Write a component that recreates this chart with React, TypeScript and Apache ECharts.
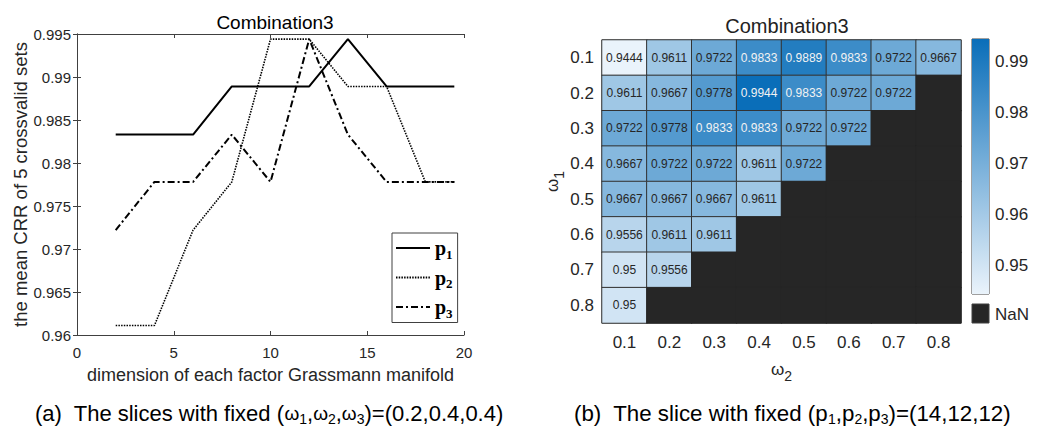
import React, { useEffect, useRef } from "react";
import * as echarts from "echarts";

// ---------- Data ----------
const dims = [2, 4, 6, 8, 10, 12, 14, 16, 18, 19.5];
const p1 = [0.9833, 0.9833, 0.9833, 0.9889, 0.9889, 0.9889, 0.9944, 0.9889, 0.9889, 0.9889];
const p2 = [0.9611, 0.9611, 0.9722, 0.9778, 0.9944, 0.9944, 0.9889, 0.9889, 0.9778, 0.9778];
const p3 = [0.9722, 0.9778, 0.9778, 0.9833, 0.9778, 0.9944, 0.9833, 0.9778, 0.9778, 0.9778];

const omegaLabels = ["0.1", "0.2", "0.3", "0.4", "0.5", "0.6", "0.7", "0.8"];
// rows: omega1 = 0.1 .. 0.8 ; columns: omega2 = 0.1 .. 0.8 ; null = NaN
const crr: (number | null)[][] = [
  [0.9444, 0.9611, 0.9722, 0.9833, 0.9889, 0.9833, 0.9722, 0.9667],
  [0.9611, 0.9667, 0.9778, 0.9944, 0.9833, 0.9722, 0.9722, null],
  [0.9722, 0.9778, 0.9833, 0.9833, 0.9722, 0.9722, null, null],
  [0.9667, 0.9722, 0.9722, 0.9611, 0.9722, null, null, null],
  [0.9667, 0.9667, 0.9667, 0.9611, null, null, null, null],
  [0.9556, 0.9611, 0.9611, null, null, null, null, null],
  [0.95, 0.9556, null, null, null, null, null, null],
  [0.95, null, null, null, null, null, null, null],
];
const colorbarTicks = [0.95, 0.96, 0.97, 0.98, 0.99];
const cMin = 0.9444;
const cMax = 0.9944;

const FONT = "Liberation Sans, Arial, sans-serif";
const TXT = "#262626";
const LOW = "#eaf3fb";
const HIGH = "#0a6eb9";
const NAN = "#262626";

export default function App() {
  const ref = useRef<HTMLDivElement>(null);
  useEffect(() => {
    if (!ref.current) return;
    const chart = echarts.init(ref.current, null, { renderer: "svg" });

    const heatData: any[] = [];
    const nanData: any[] = [];
    crr.forEach((row, r) =>
      row.forEach((v, c) => {
        if (v === null) nanData.push([c, r, 0]);
        else
          heatData.push({
            value: [c, r, v],
            label: { color: v >= 0.983 ? "#f2f2f2" : TXT },
          });
      })
    );

    const mkLine = (name: string, data: number[], lineStyle: any) => ({
      name,
      type: "line",
      xAxisIndex: 0,
      yAxisIndex: 0,
      data: dims.map((d, i) => [d, data[i]]),
      symbol: "none",
      lineStyle: { color: "#000", ...lineStyle },
      itemStyle: { color: "#000" },
    });

    const boxAxis = (extra: any) => ({
      axisLine: { show: true, lineStyle: { color: "#404040", width: 1 } },
      axisTick: { show: true, inside: true, length: 4, lineStyle: { color: "#404040" } },
      splitLine: { show: false },
      ...extra,
    });

    const option: any = {
      animation: false,
      backgroundColor: "#fff",
      textStyle: { fontFamily: FONT },
      title: [
        {
          text: "Combination3",
          left: 270,
          top: 8,
          textAlign: "center",
          textStyle: { fontSize: 19, fontWeight: "normal", color: "#000", fontFamily: FONT },
        },
        {
          text: "Combination3",
          left: 782,
          top: 11,
          textAlign: "center",
          textStyle: { fontSize: 20, fontWeight: "normal", color: "#222", fontFamily: FONT },
        },
      ],
      legend: {
        data: ["p1", "p2", "p3"],
        orient: "vertical",
        left: 392,
        top: 233,
        itemWidth: 34,
        itemHeight: 14,
        itemGap: 7,
        padding: [5, 5, 3, 3],
        borderColor: "#404040",
        borderWidth: 1,
        backgroundColor: "#fff",
        itemStyle: { opacity: 0 },
        formatter: (name: string) => `{p|p}{s|${name.slice(1)}}`,
        textStyle: {
          rich: {
            p: { fontFamily: "Liberation Serif, serif", fontWeight: "bold", fontSize: 20, color: "#000" },
            s: {
              fontFamily: "Liberation Serif, serif",
              fontWeight: "bold",
              fontSize: 13,
              color: "#000",
              padding: [12, 0, 0, 0],
            },
          },
        },
      },
      grid: [
        { left: 77, top: 34, width: 387, height: 301 },
        { left: 602, top: 40, width: 359, height: 283, show: true, borderColor: "#999", borderWidth: 1 },
        { left: 972, top: 39, width: 17, height: 255, show: true, borderColor: "#404040", borderWidth: 1 },
      ],
      xAxis: [
        boxAxis({
          type: "value",
          gridIndex: 0,
          min: 0,
          max: 20,
          interval: 5,
          name: "dimension of each factor Grassmann manifold",
          nameLocation: "middle",
          nameGap: 31,
          nameTextStyle: { fontSize: 18, color: TXT, fontFamily: FONT },
          axisLabel: { fontSize: 15, color: TXT, margin: 10, fontFamily: FONT },
        }),
        boxAxis({
          type: "value",
          gridIndex: 0,
          position: "top",
          min: 0,
          max: 20,
          interval: 5,
          axisLabel: { show: false },
        }),
        {
          type: "category",
          gridIndex: 1,
          data: omegaLabels,
          axisLine: { show: false },
          axisTick: { show: false },
          axisLabel: { fontSize: 17, color: TXT, margin: 11, fontFamily: FONT },
          name: "{w|ω}{s|2}",
          nameLocation: "middle",
          nameGap: 32,
          nameTextStyle: {
            rich: {
              w: { fontSize: 17, color: TXT, fontFamily: FONT },
              s: { fontSize: 14, color: TXT, fontFamily: FONT, padding: [14, 0, 0, 0] },
            },
          },
        },
        {
          type: "category",
          gridIndex: 2,
          data: [""],
          show: false,
        },
      ],
      yAxis: [
        boxAxis({
          type: "value",
          gridIndex: 0,
          min: 0.96,
          max: 0.995,
          interval: 0.005,
          name: "the mean CRR of 5 crossvalid sets",
          nameLocation: "middle",
          nameGap: 42,
          nameTextStyle: { fontSize: 18.5, color: TXT, fontFamily: FONT },
          axisLabel: { fontSize: 15, color: TXT, margin: 6, fontFamily: FONT },
        }),
        boxAxis({
          type: "value",
          gridIndex: 0,
          position: "right",
          min: 0.96,
          max: 0.995,
          interval: 0.005,
          axisLabel: { show: false },
        }),
        {
          type: "category",
          gridIndex: 1,
          data: omegaLabels,
          inverse: true,
          axisLine: { show: false },
          axisTick: { show: false },
          axisLabel: { fontSize: 17, color: TXT, margin: 8, fontFamily: FONT },
          name: "{w|ω}{s|1}",
          nameLocation: "middle",
          nameGap: 36,
          nameTextStyle: {
            rich: {
              w: { fontSize: 17, color: TXT, fontFamily: FONT },
              s: { fontSize: 14, color: TXT, fontFamily: FONT, padding: [14, 0, 0, 0] },
            },
          },
        },
        {
          type: "value",
          gridIndex: 2,
          position: "right",
          min: cMin,
          max: cMax,
          axisLine: { show: false },
          splitLine: { show: false },
          axisTick: {
            show: true,
            inside: true,
            length: 2,
            customValues: colorbarTicks,
            lineStyle: { color: "#404040" },
          },
          axisLabel: {
            fontSize: 17,
            color: TXT,
            margin: 6,
            fontFamily: FONT,
            customValues: colorbarTicks,
            formatter: (v: number) => String(v),
          },
        },
      ],
      visualMap: [
        {
          type: "continuous",
          show: false,
          min: cMin,
          max: cMax,
          dimension: 2,
          seriesIndex: 3,
          inRange: { color: [LOW, HIGH] },
        },
        {
          type: "piecewise",
          show: false,
          dimension: 2,
          seriesIndex: 4,
          pieces: [{ min: -1, max: 1, color: NAN }],
        },
      ],
      series: [
        mkLine("p1", p1, { width: 2, type: "solid" }),
        mkLine("p2", p2, { width: 1.6, type: [1.5, 1.2] }),
        mkLine("p3", p3, { width: 2, type: [7, 3, 2, 3] }),
        {
          type: "heatmap",
          xAxisIndex: 2,
          yAxisIndex: 2,
          data: heatData,
          itemStyle: { borderColor: "#333", borderWidth: 1 },
          label: {
            show: true,
            fontSize: 12,
            fontFamily: FONT,
            formatter: (p: any) => String(p.value[2]),
          },
          emphasis: { disabled: true },
        },
        {
          type: "heatmap",
          xAxisIndex: 2,
          yAxisIndex: 2,
          data: nanData,
          itemStyle: { borderColor: NAN, borderWidth: 1 },
          label: { show: false },
          emphasis: { disabled: true },
        },
        {
          type: "bar",
          xAxisIndex: 3,
          yAxisIndex: 3,
          data: [cMax],
          barWidth: "100%",
          clip: true,
          itemStyle: {
            color: new echarts.graphic.LinearGradient(0, 0, 0, 1, [
              { offset: 0, color: HIGH },
              { offset: 1, color: LOW },
            ]),
          },
          emphasis: { disabled: true },
        },
      ],
      graphic: [
        {
          type: "rect",
          shape: { x: 972, y: 304, width: 17, height: 19 },
          style: { fill: NAN, stroke: "#404040" },
        },
        {
          type: "text",
          x: 995,
          y: 314,
          style: { text: "NaN", fontSize: 17, fill: TXT, fontFamily: FONT, verticalAlign: "middle" },
        },
        {
          type: "text",
          x: 35,
          y: 413,
          style: {
            text: "(a)  The slices with fixed ({w|ω}{s|1},{w|ω}{s|2},{w|ω}{s|3})=(0.2,0.4,0.4)",
            fontSize: 22,
            fill: "#000",
            fontFamily: FONT,
            verticalAlign: "middle",
            rich: {
              w: { fontSize: 19, fill: "#000", fontFamily: FONT },
              s: { fontSize: 14, fill: "#000", fontFamily: FONT, padding: [12, 0, 0, 0] },
            },
          },
        },
        {
          type: "text",
          x: 574,
          y: 413,
          style: {
            text: "(b)  The slice with fixed (p{s|1},p{s|2},p{s|3})=(14,12,12)",
            fontSize: 22.3,
            fill: "#000",
            fontFamily: FONT,
            verticalAlign: "middle",
            rich: {
              s: { fontSize: 14, fill: "#000", fontFamily: FONT, padding: [12, 0, 0, 0] },
            },
          },
        },
      ],
    };

    chart.setOption(option);
    return () => chart.dispose();
  }, []);

  return (
    <div
      ref={ref}
      style={{ position: "absolute", left: 0, top: 0, width: 1042, height: 437, background: "#fff" }}
    />
  );
}
